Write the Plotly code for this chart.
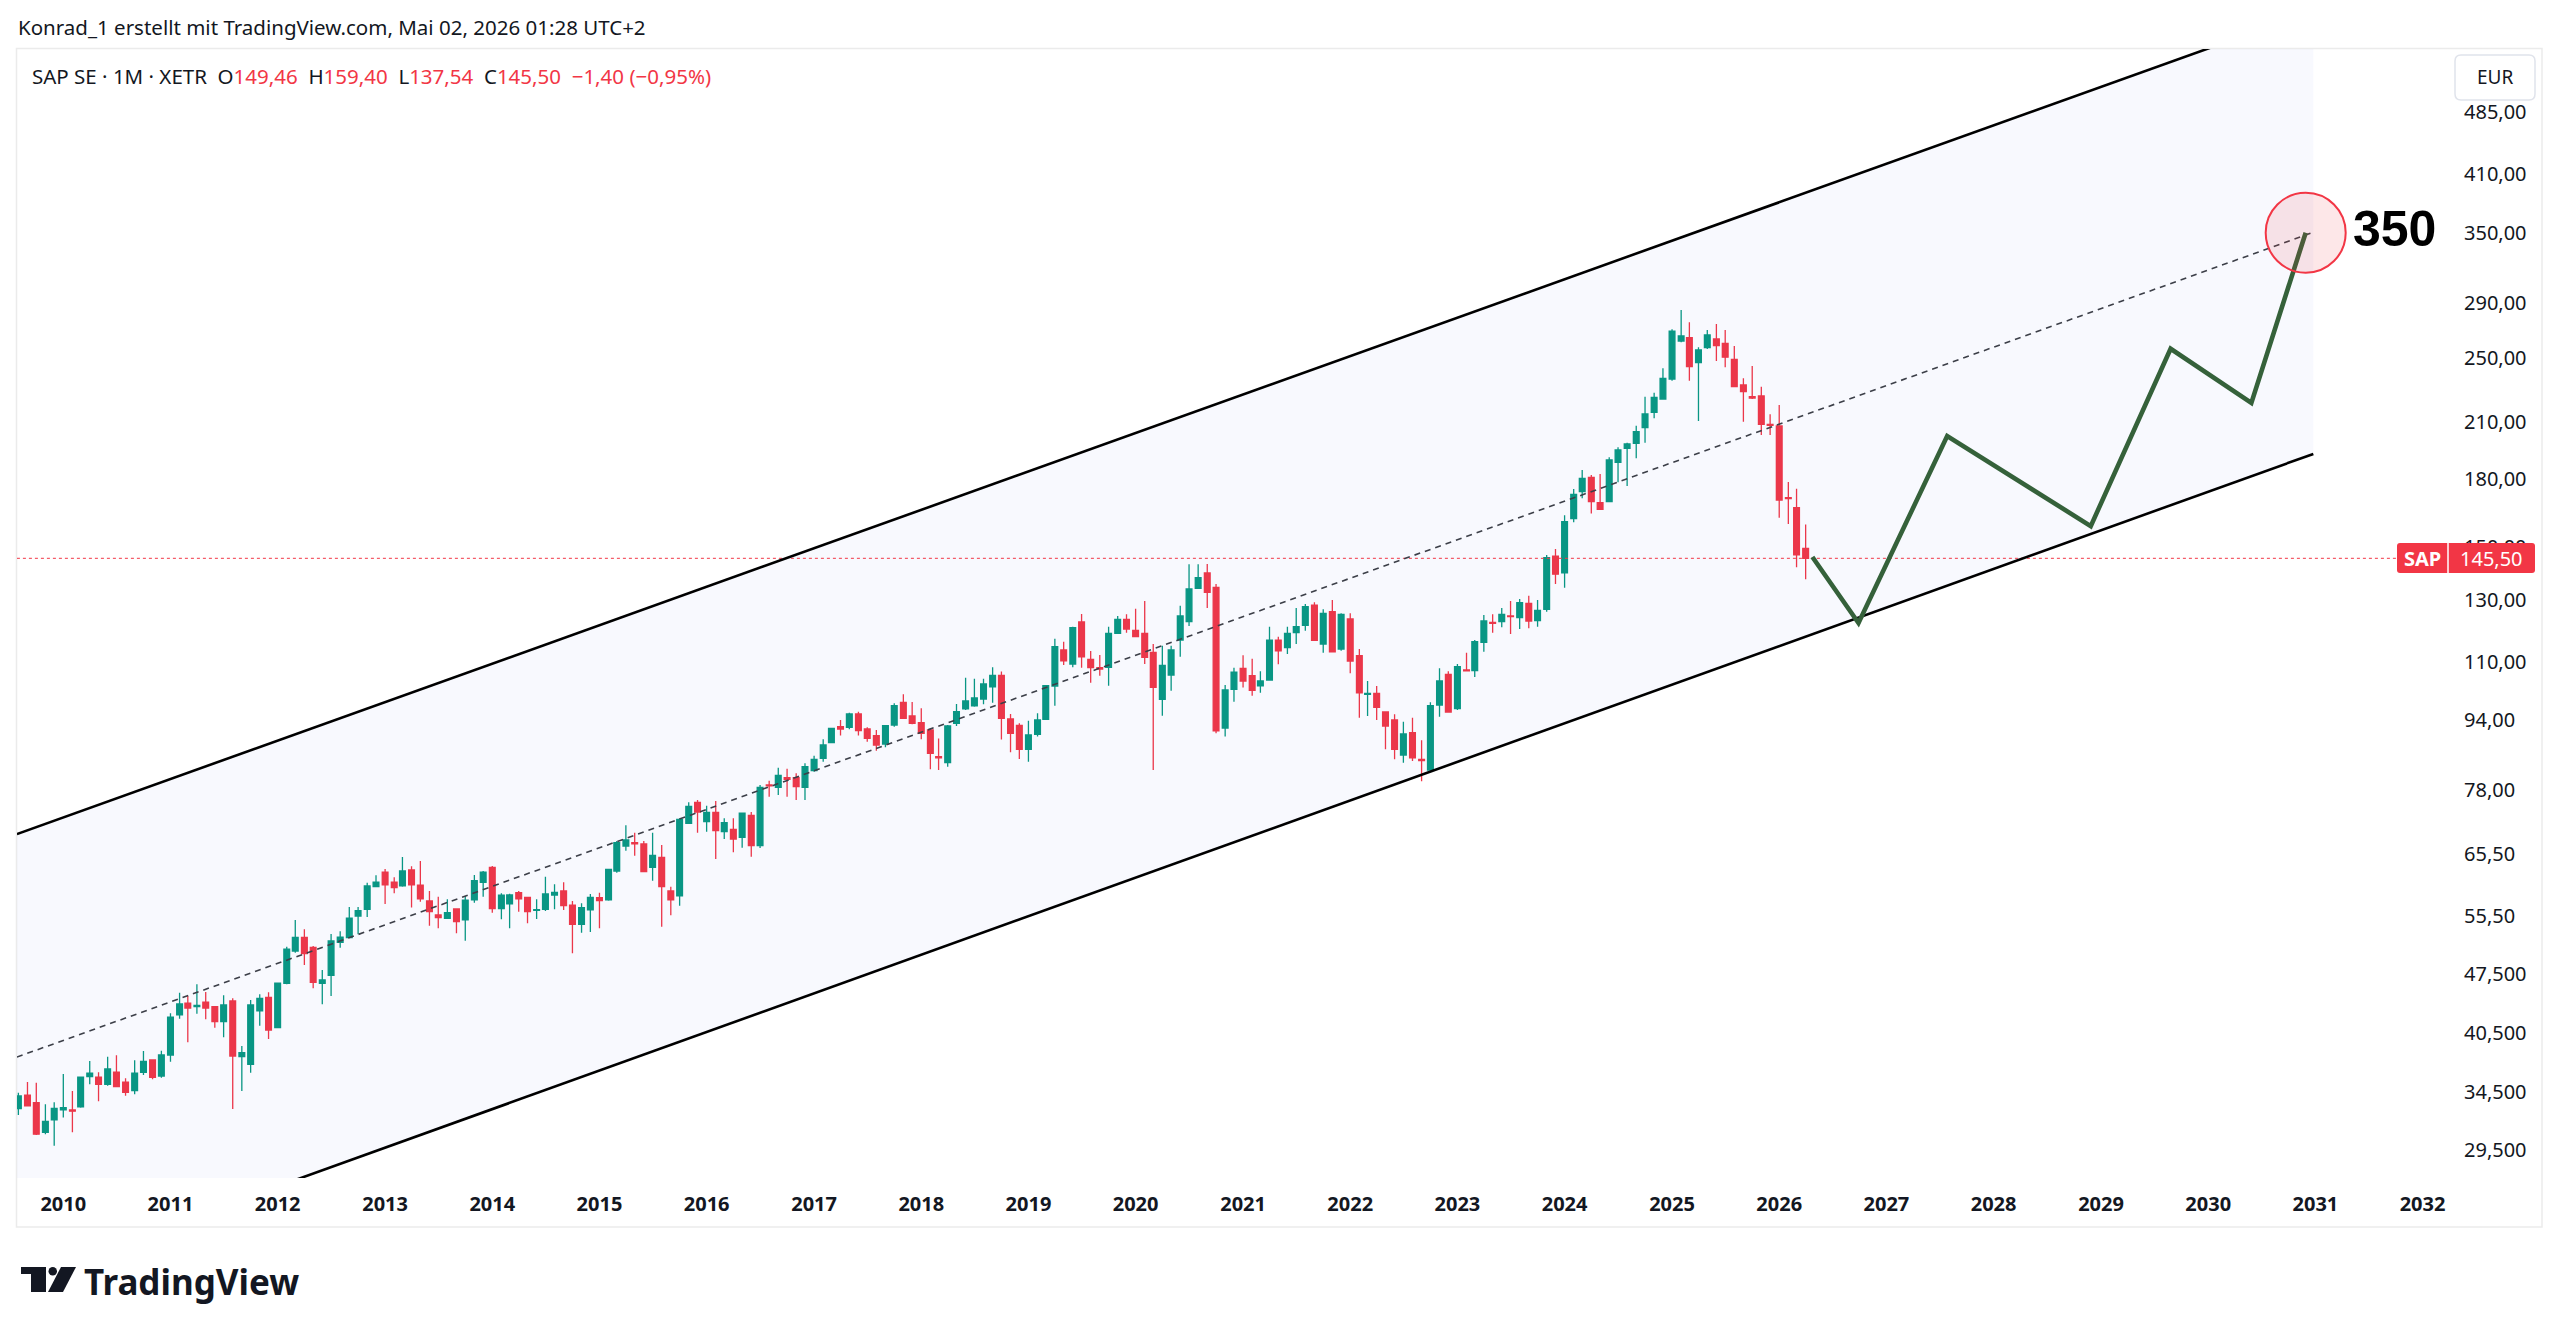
import numpy as np
import pandas as pd
import plotly.graph_objects as go

# ---------------- data (SAP SE, monthly, XETR, EUR) ----------------
months = pd.date_range("2009-08-01", "2026-04-01", freq="MS")

opens = [
    33.00, 34.21, 33.54, 30.96, 32.01,
    32.88, 32.88, 33.15, 35.97, 35.91, 35.24, 36.40, 35.43, 34.64, 36.40, 37.62, 36.03,
    38.13, 42.48, 43.84, 43.44, 43.96, 43.44, 41.72, 44.11, 37.96, 37.19, 42.94, 44.55,
    41.05, 46.27, 50.47, 52.37, 50.98, 46.27, 47.27, 51.67, 52.33, 55.47, 56.49, 60.03,
    62.45, 60.75, 60.15, 62.79, 60.26, 57.76, 55.62, 55.12, 56.53, 54.88, 57.92, 60.75,
    63.25, 56.58, 57.30, 59.06, 58.34, 56.33, 56.49, 58.70, 59.34, 57.10, 54.25, 56.38,
    58.28, 57.92, 62.62, 66.99, 67.59, 67.35, 63.25, 64.98, 59.34, 58.55, 71.22, 75.37,
    71.55, 73.32, 69.62, 70.07, 68.58, 72.76, 67.04, 78.97, 78.48, 80.54, 80.54, 78.48,
    82.07, 84.86, 88.50, 92.41, 92.26, 95.62, 91.84, 90.22, 88.19, 92.83, 98.69, 95.11,
    93.40, 91.59, 85.22, 83.86, 93.25, 96.93, 97.78, 99.57, 102.92, 106.14, 94.34, 92.75,
    86.94, 90.54, 94.27, 103.11, 113.63, 109.42, 122.54, 110.81, 108.34, 108.45, 118.87, 123.44,
    119.84, 118.87, 112.93, 99.49, 106.22, 116.70, 122.65, 134.20, 139.89, 134.56, 92.08, 102.23,
    108.16, 106.02, 103.19, 104.80, 116.70, 114.34, 119.06, 121.48, 128.28, 115.48, 126.00, 113.94,
    123.54, 111.89, 100.84, 101.11, 96.14, 94.09, 85.62, 90.95, 84.63, 82.21, 97.97, 106.42,
    97.00, 107.70, 107.50, 116.04, 122.45, 122.65, 124.54, 123.98, 128.88, 122.98, 126.82, 146.40,
    139.89, 161.90, 174.12, 181.02, 169.04, 169.49, 188.48, 195.73, 198.39, 206.91, 215.68, 223.55,
    235.94, 261.40, 263.74, 246.54, 256.72, 262.83, 259.78, 248.81, 232.16, 224.94, 225.37, 208.82,
    207.86, 171.33, 166.76, 149.46,
]
highs = [
    34.45, 35.46, 35.39, 33.39, 33.57,
    36.23, 34.61, 35.97, 37.52, 36.40, 37.96, 38.10, 35.82, 37.59, 38.55, 37.62, 38.58,
    42.67, 45.11, 44.71, 46.14, 45.19, 43.44, 44.79, 44.43, 39.07, 44.23, 44.91, 45.15,
    46.34, 51.06, 54.88, 53.51, 51.16, 47.96, 52.84, 53.23, 56.84, 56.84, 60.69, 61.91,
    62.96, 61.57, 65.03, 63.42, 64.33, 59.34, 58.44, 58.03, 56.63, 58.55, 61.96, 62.62,
    63.47, 58.97, 58.91, 59.34, 58.34, 58.03, 61.67, 60.42, 60.75, 57.76, 57.41, 58.87,
    59.06, 62.91, 67.90, 70.83, 69.43, 67.90, 69.43, 67.17, 60.03, 72.19, 75.37, 75.84,
    74.69, 75.64, 72.19, 72.19, 73.32, 73.40, 78.97, 79.89, 82.74, 82.51, 81.50, 83.72,
    85.46, 89.33, 92.16, 94.09, 95.96, 96.22, 92.26, 91.59, 92.83, 98.42, 100.83, 98.77,
    97.09, 92.01, 89.54, 92.83, 98.23, 105.46, 105.16, 105.16, 108.45, 107.22, 95.62, 93.25,
    93.91, 95.80, 103.38, 117.15, 116.21, 121.00, 125.21, 113.32, 112.10, 121.00, 124.54, 125.11,
    127.00, 129.68, 115.48, 114.95, 114.95, 128.07, 143.16, 143.16, 143.28, 135.77, 103.38, 108.34,
    112.00, 110.96, 107.31, 121.00, 117.80, 121.00, 127.30, 128.64, 129.23, 126.82, 130.03, 125.45,
    125.45, 113.94, 104.52, 103.11, 96.14, 95.54, 93.66, 94.67, 89.12, 98.69, 108.16, 107.31,
    109.42, 112.82, 116.70, 124.87, 125.11, 127.30, 129.68, 130.38, 131.55, 130.03, 146.80, 149.19,
    163.40, 175.35, 184.61, 182.14, 182.64, 191.04, 196.26, 198.72, 208.03, 224.94, 227.38, 242.85,
    269.77, 284.17, 274.91, 256.99, 269.27, 273.66, 269.27, 257.96, 236.38, 244.36, 231.09, 214.52,
    219.96, 178.79, 175.47, 159.40,
]
lows = [
    32.44, 33.18, 30.74, 30.80, 29.86,
    32.21, 30.96, 33.08, 35.24, 33.66, 35.11, 34.96, 34.17, 34.30, 36.13, 35.72, 35.87,
    37.45, 42.06, 39.46, 42.62, 41.99, 41.05, 40.00, 32.97, 34.61, 36.36, 41.27, 39.81,
    40.98, 46.14, 50.24, 48.60, 45.65, 43.72, 44.71, 50.92, 52.25, 52.80, 55.32, 60.03,
    57.30, 58.97, 60.03, 56.74, 57.65, 54.04, 53.66, 55.02, 52.94, 51.90, 57.50, 58.44,
    55.97, 54.98, 53.66, 56.12, 54.39, 55.02, 56.23, 56.49, 56.38, 50.16, 53.03, 53.13,
    53.66, 57.81, 62.34, 66.14, 65.26, 62.41, 61.01, 53.89, 55.57, 57.04, 71.09, 69.43,
    69.62, 64.68, 68.26, 65.86, 66.68, 65.09, 66.63, 76.52, 76.87, 76.52, 75.84, 75.84,
    81.85, 84.09, 88.36, 90.22, 91.77, 90.22, 88.73, 86.62, 87.41, 92.41, 94.52, 93.00,
    89.36, 82.38, 82.21, 82.96, 92.58, 96.67, 97.52, 98.16, 98.58, 89.29, 86.24, 84.70,
    84.09, 89.98, 94.09, 97.78, 109.13, 108.45, 108.34, 104.04, 106.02, 103.19, 118.65, 119.06,
    117.80, 109.42, 82.21, 95.18, 101.80, 111.59, 121.27, 133.95, 127.30, 90.78, 89.98, 98.85,
    102.73, 100.46, 101.25, 104.80, 109.34, 112.40, 115.48, 119.66, 116.60, 112.80, 113.10, 113.41,
    106.71, 94.67, 95.11, 94.09, 86.94, 84.63, 83.86, 84.25, 79.79, 82.21, 94.92, 96.14,
    96.67, 107.42, 105.65, 113.10, 119.06, 120.80, 118.65, 120.26, 120.48, 121.00, 126.00, 135.77,
    134.40, 160.36, 171.05, 164.15, 165.75, 169.22, 178.59, 176.82, 190.53, 198.72, 212.22, 223.13,
    234.88, 260.48, 234.88, 210.68, 255.82, 247.67, 243.51, 230.72, 210.28, 223.55, 202.89, 202.89,
    162.34, 159.63, 142.01, 137.54,
]
closes = [
    34.15, 33.24, 30.80, 31.89, 33.03,
    33.08, 32.77, 35.91, 36.30, 35.24, 36.72, 35.01, 34.49, 36.30, 37.49, 35.91, 38.13,
    42.22, 43.76, 43.27, 43.60, 43.27, 41.72, 43.64, 38.03, 38.37, 43.64, 44.43, 40.79,
    46.27, 50.71, 52.37, 50.13, 46.37, 46.68, 51.85, 52.41, 55.13, 56.26, 60.15, 60.75,
    60.31, 59.87, 62.62, 60.31, 58.08, 56.12, 55.22, 55.97, 54.63, 57.88, 61.01, 62.45,
    56.58, 58.66, 58.70, 58.08, 56.12, 56.43, 58.87, 59.12, 57.04, 54.25, 56.74, 58.34,
    57.81, 62.91, 67.59, 68.08, 67.40, 62.51, 65.33, 60.03, 57.92, 71.99, 74.56, 73.40,
    73.32, 69.81, 71.34, 68.26, 73.21, 67.04, 78.48, 78.76, 81.06, 80.19, 78.61, 82.96,
    84.63, 87.96, 92.01, 91.84, 95.62, 91.44, 89.54, 87.96, 92.66, 97.78, 94.52, 93.25,
    90.78, 86.01, 84.99, 92.58, 96.22, 99.03, 99.84, 103.68, 106.14, 94.52, 90.78, 86.94,
    90.39, 94.09, 103.19, 114.65, 110.39, 120.67, 111.59, 108.34, 107.96, 118.87, 123.44, 120.26,
    117.80, 111.41, 102.78, 109.04, 113.63, 124.54, 133.95, 138.09, 132.74, 91.35, 102.01, 107.02,
    104.52, 101.91, 104.52, 116.70, 113.41, 118.87, 121.00, 127.70, 116.60, 125.45, 113.10, 125.11,
    110.30, 101.25, 101.11, 97.36, 92.58, 86.94, 90.63, 84.99, 84.31, 97.78, 104.52, 96.14,
    108.63, 107.42, 116.21, 122.88, 122.12, 125.11, 124.31, 129.09, 122.88, 126.46, 145.73, 139.41,
    160.59, 172.90, 180.52, 169.49, 166.04, 189.66, 194.84, 198.02, 204.69, 214.69, 224.57, 236.39,
    268.53, 264.94, 243.90, 255.13, 265.67, 258.11, 250.24, 231.09, 228.00, 224.15, 208.82, 208.26,
    170.27, 170.87, 146.90, 145.50,
]

last_price = 145.50

# drawings: parallel channel (log scale) and projected path
channel_dates = ["2009-07-27", "2030-12-25"]
channel_upper = [69.18, 636.7]
channel_lower = [20.78, 192.8]
channel_mid = [37.92, 350.4]

path_dates = ["2026-04-24", "2026-09-28", "2027-07-27", "2028-11-27",
              "2029-08-26", "2030-05-28", "2030-11-29"]
path_prices = [146.0, 122.2, 202.3, 158.7, 256.0, 221.2, 350.0]
target_date, target_price = "2030-11-29", 350

year_ticks = list(range(2010, 2033))
price_ticks = [29.5, 34.5, 40.5, 47.5, 55.5, 65.5, 78, 94, 110, 130, 150, 180,
               210, 250, 290, 350, 410, 485]
price_tick_text = ["29,500", "34,500", "40,500", "47,500", "55,50", "65,50", "78,00",
                   "94,00", "110,00", "130,00", "150,00", "180,00", "210,00", "250,00",
                   "290,00", "350,00", "410,00", "485,00"]

# ---------------- styling ----------------
UP, DOWN = "#089981", "#f23645"
TXT = "#131722"
FONT = "Noto Sans"
FIG_W, FIG_H = 2560, 1334
PL, PR, PT, PB = 17, 2450, 49, 1178


def fx(p):
    return (p - PL) / (PR - PL)


def fy(p):
    return (PB - p) / (PB - PT)


fig = go.Figure()

# channel background (translucent so the candles below stay visible)
fig.add_trace(go.Scatter(
    x=[channel_dates[0], channel_dates[1], channel_dates[1], channel_dates[0], channel_dates[0]],
    y=[channel_upper[0], channel_upper[1], channel_lower[1], channel_lower[0], channel_upper[0]],
    mode="lines", fill="toself", fillcolor="rgba(55,80,230,0.035)", line=dict(width=0),
    hoverinfo="skip", showlegend=False))

# candles
fig.add_trace(go.Candlestick(
    x=months, open=opens, high=highs, low=lows, close=closes,
    increasing=dict(line=dict(color=UP, width=1.3), fillcolor=UP),
    decreasing=dict(line=dict(color=DOWN, width=1.3), fillcolor=DOWN),
    whiskerwidth=0, showlegend=False, hoverinfo="skip"))

# last price dotted line
fig.add_trace(go.Scatter(
    x=["2009-07-27", "2032-04-03"], y=[last_price, last_price], mode="lines",
    line=dict(color=DOWN, width=1, dash="dot"), hoverinfo="skip", showlegend=False))

# channel mid line
fig.add_trace(go.Scatter(
    x=channel_dates, y=channel_mid, mode="lines",
    line=dict(color="#3c3f48", width=1.6, dash="6px,5px"), hoverinfo="skip", showlegend=False))

# channel borders
for ys in (channel_upper, channel_lower):
    fig.add_trace(go.Scatter(
        x=channel_dates, y=ys, mode="lines",
        line=dict(color="#000000", width=2.6), hoverinfo="skip", showlegend=False))

# projected path
fig.add_trace(go.Scatter(
    x=path_dates, y=path_prices, mode="lines",
    line=dict(color="#35613a", width=4.6), hoverinfo="skip", showlegend=False))

# target circle
fig.add_trace(go.Scatter(
    x=[target_date], y=[target_price], mode="markers",
    marker=dict(size=80, color="rgba(242,54,69,0.12)", line=dict(color=DOWN, width=2)),
    hoverinfo="skip", showlegend=False))

legend_html = (
    "SAP SE · 1M · XETR\u00a0\u00a0"
    f"O<span style='color:{DOWN}'>149,46</span>\u00a0\u00a0"
    f"H<span style='color:{DOWN}'>159,40</span>\u00a0\u00a0"
    f"L<span style='color:{DOWN}'>137,54</span>\u00a0\u00a0"
    f"C<span style='color:{DOWN}'>145,50</span>\u00a0\u00a0"
    f"<span style='color:{DOWN}'>\u22121,40 (\u22120,95%)</span>"
)

annotations = [
    dict(text="Konrad_1 erstellt mit TradingView.com, Mai 02, 2026 01:28 UTC+2",
         x=fx(16), y=fy(27), xref="paper", yref="paper", xanchor="left", yanchor="middle",
         showarrow=False, font=dict(family=FONT, size=20.5, color=TXT)),
    dict(text=legend_html, x=fx(30), y=fy(76), xref="paper", yref="paper",
         xanchor="left", yanchor="middle", showarrow=False,
         font=dict(family=FONT, size=20.5, color=TXT)),
    dict(text="<b>350</b>", x=target_date, y=np.log10(target_price), xref="x", yref="y",
         xanchor="left", yanchor="middle", xshift=45, yshift=4, showarrow=False,
         font=dict(family="Liberation Sans", size=50, color="#000000")),
    dict(text="SAP", x=fx(2422), y=fy(558), xref="paper", yref="paper",
         xanchor="center", yanchor="middle", showarrow=False,
         font=dict(family=FONT, size=20, color="#ffffff", weight="bold")),
    dict(text="145,50", x=fx(2491), y=fy(558), xref="paper", yref="paper",
         xanchor="center", yanchor="middle", showarrow=False,
         font=dict(family=FONT, size=20, color="#ffffff")),
    dict(text="EUR", x=fx(2495), y=fy(77), xref="paper", yref="paper",
         xanchor="center", yanchor="middle", showarrow=False,
         font=dict(family=FONT, size=19, color=TXT)),
    dict(text="<b>TradingView</b>", x=fx(82), y=fy(1281), xref="paper", yref="paper",
         xanchor="left", yanchor="middle", showarrow=False,
         font=dict(family=FONT, size=35, color=TXT)),
]


def rounded_rect(x0, y0, x1, y1, r):
    return (f"M {fx(x0 + r)} {fy(y0)} L {fx(x1 - r)} {fy(y0)} "
            f"Q {fx(x1)} {fy(y0)} {fx(x1)} {fy(y0 + r)} L {fx(x1)} {fy(y1 - r)} "
            f"Q {fx(x1)} {fy(y1)} {fx(x1 - r)} {fy(y1)} L {fx(x0 + r)} {fy(y1)} "
            f"Q {fx(x0)} {fy(y1)} {fx(x0)} {fy(y1 - r)} L {fx(x0)} {fy(y0 + r)} "
            f"Q {fx(x0)} {fy(y0)} {fx(x0 + r)} {fy(y0)} Z")


shapes = [
    # outer frame
    dict(type="rect", xref="paper", yref="paper", x0=fx(16.5), x1=fx(2542),
         y0=fy(1227), y1=fy(48.5), line=dict(color="#ebebeb", width=1.5), layer="below"),
    # EUR box
    dict(type="path", xref="paper", yref="paper", path=rounded_rect(2455, 55, 2535, 100, 6),
         line=dict(color="#e0e3eb", width=1.5), fillcolor="#ffffff"),
    # SAP last price label
    dict(type="path", xref="paper", yref="paper", path=rounded_rect(2397, 543, 2535, 573, 3),
         line=dict(width=0), fillcolor=DOWN),
    dict(type="line", xref="paper", yref="paper", x0=fx(2448), x1=fx(2448),
         y0=fy(573), y1=fy(543), line=dict(color="#ffffff", width=1.5)),
    # TradingView logo
    dict(type="rect", xref="paper", yref="paper", x0=fx(21), x1=fx(46),
         y0=fy(1274), y1=fy(1267), line=dict(width=0), fillcolor=TXT),
    dict(type="rect", xref="paper", yref="paper", x0=fx(31), x1=fx(46),
         y0=fy(1292), y1=fy(1267), line=dict(width=0), fillcolor=TXT),
    dict(type="circle", xref="paper", yref="paper", x0=fx(48.5), x1=fx(57),
         y0=fy(1275.5), y1=fy(1267), line=dict(width=0), fillcolor=TXT),
    dict(type="path", xref="paper", yref="paper",
         path=f"M {fx(61)} {fy(1267)} L {fx(76)} {fy(1267)} L {fx(63)} {fy(1292)} L {fx(48)} {fy(1292)} Z",
         line=dict(width=0), fillcolor=TXT),
]

fig.update_layout(
    template="none",
    width=FIG_W, height=FIG_H,
    margin=dict(l=PL, r=FIG_W - PR, t=PT, b=FIG_H - PB, pad=0),
    paper_bgcolor="#ffffff", plot_bgcolor="#ffffff",
    showlegend=False,
    boxgap=0.3, boxgroupgap=0,
    annotations=annotations, shapes=shapes,
    xaxis=dict(
        type="date", range=["2009-07-27 07:00", "2032-04-03 12:00"],
        showgrid=False, zeroline=False, showline=False, ticks="",
        tickvals=[f"{y}-01-01" for y in year_ticks], ticktext=[str(y) for y in year_ticks],
        tickfont=dict(family=FONT, size=20, color=TXT, weight="bold"),
        ticklabelstandoff=12, automargin=False,
        rangeslider=dict(visible=False), fixedrange=True,
    ),
    yaxis=dict(
        type="log", side="right",
        range=[np.log10(27.37), np.log10(574.4)],
        showgrid=False, zeroline=False, showline=False, ticks="",
        tickvals=price_ticks, ticktext=price_tick_text,
        tickfont=dict(family=FONT, size=20, color=TXT),
        ticklabelstandoff=13, automargin=False, fixedrange=True,
    ),
)

fig.write_html("out.html", config={"displayModeBar": False})
